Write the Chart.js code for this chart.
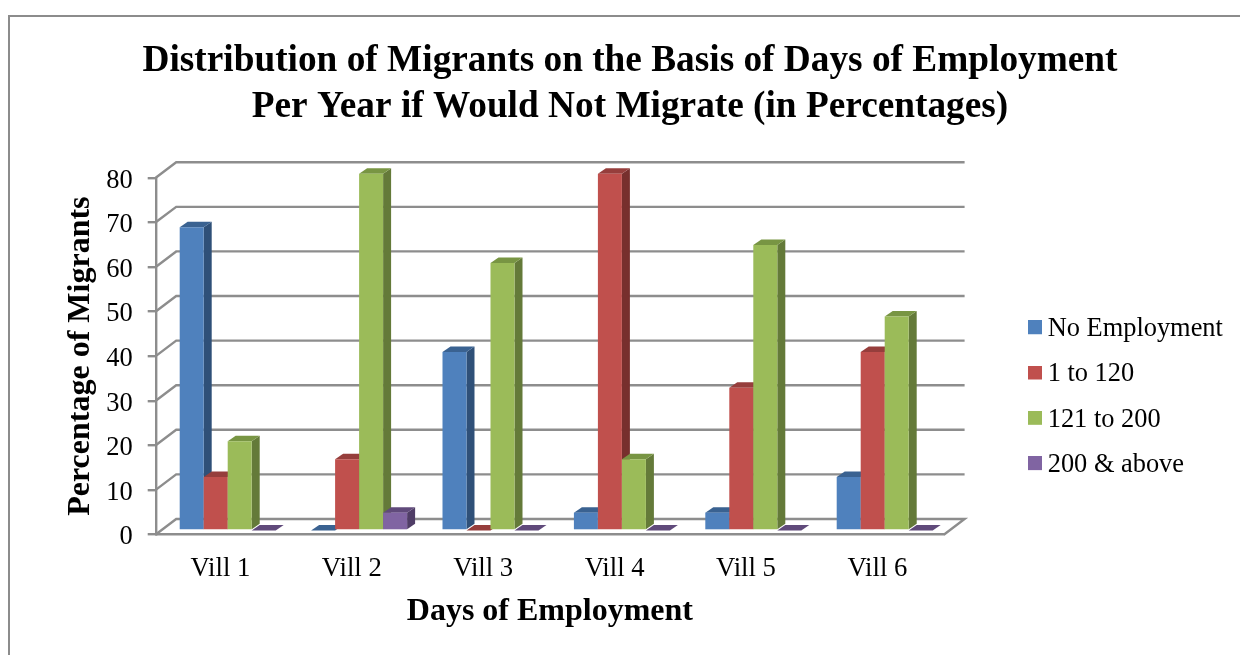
<!DOCTYPE html>
<html>
<head>
<meta charset="utf-8">
<title>Distribution of Migrants</title>
<script src="https://cdn.jsdelivr.net/npm/chart.js@4"></script>
<style>
  html, body { margin: 0; padding: 0; background: #fff; overflow: hidden; }
  canvas { display: block; }
</style>
</head>
<body>
<canvas id="chart" width="1240" height="655"></canvas>
<script>
const villages = ['Vill 1', 'Vill 2', 'Vill 3', 'Vill 4', 'Vill 5', 'Vill 6'];
const noEmployment = [68, 0, 40, 4, 4, 12];
const upTo120 = [12, 16, 0, 80, 32, 40];
const upTo200 = [20, 80, 60, 16, 64, 48];
const above200 = [0, 4, 0, 0, 0, 0];

const seriesNames = ['No Employment', '1 to 120', '121 to 200', '200 & above'];
const frontColors = ['#4f81bd', '#c0504d', '#9bbb59', '#8064a2'];
const topColors = ['#3a6291', '#963e3c', '#789543', '#604a7b'];
const sideColors = ['#2f5078', '#772f2d', '#647a39', '#4f3d66'];

const titleLines = [
  'Distribution of Migrants on the Basis of Days of Employment',
  'Per Year if Would Not Migrate (in Percentages)'
];

const serif = '"Liberation Serif", "Times New Roman", serif';
const axisGray = '#8d8d8d';

// Depth of the box behind the front plane, and of each column.
const WALL_DX = 20.5, WALL_DY = 15.5;
const BAR_SHIFT_X = 6.3, BAR_SHIFT_Y = -4;
const BAR_DX = 8, BAR_DY = 5.5;

function polygon(ctx, points, fill) {
  ctx.beginPath();
  points.forEach((p, i) => (i ? ctx.lineTo(p[0], p[1]) : ctx.moveTo(p[0], p[1])));
  ctx.closePath();
  ctx.fillStyle = fill;
  ctx.fill();
}

// Legend marker: a 14px square sitting slightly above and right of the image centre,
// so it lines up with the label text beside it.
function swatch(color) {
  const c = document.createElement('canvas');
  c.width = 16;
  c.height = 18;
  const g = c.getContext('2d');
  g.fillStyle = color;
  g.fillRect(2, 0, 14, 14);
  return c;
}

const frame = {
  id: 'frame',
  beforeDraw(chart) {
    const { ctx, width, height } = chart;
    ctx.save();
    ctx.strokeStyle = '#8c8c8c';
    ctx.lineWidth = 2;
    ctx.beginPath();
    ctx.moveTo(9, height);
    ctx.lineTo(9, 16);
    ctx.lineTo(width, 16);
    ctx.stroke();
    ctx.restore();
  }
};

// The legend and title live outside the plot's own box, so they are placed after layout.
const placement = {
  id: 'placement',
  afterLayout(chart) {
    const title = chart.titleBlock;
    title.left = 20;
    title.right = chart.width;
    const legend = chart.legend;
    const pad = legend.options.labels.padding;
    const w = legend.width, h = legend.height;
    legend.left = 1033.5 - pad;
    legend.right = legend.left + w;
    legend.top = 316 - pad;
    legend.bottom = legend.top + h;
    legend.adjustHitBoxes();
  }
};

const box3d = {
  id: 'box3d',
  beforeDatasetsDraw(chart) {
    const { ctx, scales: { y }, chartArea } = chart;
    const left = chartArea.left, right = chartArea.right;

    // Back wall lines and the slanted floor and wall edges.
    ctx.save();
    ctx.strokeStyle = axisGray;
    ctx.lineWidth = 2.4;
    y.ticks.forEach(t => {
      const py = y.getPixelForValue(t.value);
      ctx.beginPath();
      ctx.moveTo(left, py);
      ctx.lineTo(left + WALL_DX, py - WALL_DY);
      ctx.lineTo(right + WALL_DX, py - WALL_DY);
      if (t.value === 0) ctx.lineTo(right, py);
      ctx.stroke();
    });
    ctx.restore();

    // Columns are painted left to right so nearer faces cover farther ones.
    ctx.save();
    ctx.translate(BAR_SHIFT_X, BAR_SHIFT_Y);
    chart.data.datasets.forEach((ds, di) => {
      chart.getDatasetMeta(di).data.forEach(bar => {
        const p = bar.getProps(['x', 'y', 'base', 'width'], true);
        const x0 = p.x - p.width / 2, x1 = p.x + p.width / 2;
        polygon(ctx, [[x1, p.y], [x1 + BAR_DX, p.y - BAR_DY], [x1 + BAR_DX, p.base - BAR_DY], [x1, p.base]], sideColors[di]);
        polygon(ctx, [[x0, p.y], [x1, p.y], [x1 + BAR_DX, p.y - BAR_DY], [x0 + BAR_DX, p.y - BAR_DY]], topColors[di]);
        bar.draw(ctx);
      });
    });
    ctx.restore();
    return false;
  }
};

const seriesValues = [noEmployment, upTo120, upTo200, above200];

new Chart(document.getElementById('chart'), {
  type: 'bar',
  data: {
    labels: villages,
    datasets: seriesNames.map((name, i) => ({
      label: name,
      data: seriesValues[i],
      backgroundColor: frontColors[i],
      borderWidth: 0,
      barPercentage: 1,
      categoryPercentage: 0.7306
    }))
  },
  options: {
    responsive: false,
    animation: false,
    layout: { padding: { left: 0, top: 0, right: 295.9, bottom: 0 } },
    plugins: {
      title: {
        display: true,
        text: titleLines,
        color: '#000',
        font: { family: serif, size: 37.3, weight: 'bold', lineHeight: 1.235 },
        padding: { top: 38, bottom: 47.6 }
      },
      legend: {
        position: 'chartArea',
        align: 'start',
        labels: {
          color: '#000',
          font: { family: serif, size: 26.4 },
          boxWidth: 1,
          boxHeight: 1,
          padding: 18.9,
          usePointStyle: true,
          generateLabels: chart => chart.data.datasets.map((ds, i) => ({
            text: ds.label,
            pointStyle: swatch(frontColors[i]),
            lineWidth: 0,
            datasetIndex: i,
            hidden: false
          }))
        }
      },
      tooltip: { enabled: false }
    },
    scales: {
      x: {
        afterFit(scale) { scale.height = 120.5; },
        border: { color: axisGray, width: 2.4 },
        grid: { drawOnChartArea: false, drawTicks: false },
        ticks: { color: '#000', padding: 18.5, labelOffset: -1, autoSkip: false, maxRotation: 0, font: { family: serif, size: 26.7 } },
        title: {
          display: true, text: 'Days of Employment', color: '#000',
          font: { family: serif, size: 32, weight: 'bold', lineHeight: 1.2 },
          padding: { top: 0, bottom: 24 }
        }
      },
      y: {
        min: 0, max: 80,
        afterFit(scale) { scale.width = 155.7; },
        border: { color: axisGray, width: 2.4 },
        grid: { drawOnChartArea: false, drawTicks: true, tickLength: 8, color: axisGray, lineWidth: 2.4 },
        ticks: { stepSize: 10, color: '#000', padding: 15, labelOffset: 3, font: { family: serif, size: 26.5 } },
        title: {
          display: true, text: 'Percentage of Migrants', color: '#000',
          font: { family: serif, size: 32, weight: 'bold', lineHeight: 1.2 },
          padding: { top: 62, bottom: 0 }
        }
      }
    }
  },
  plugins: [frame, placement, box3d]
});
</script>
</body>
</html>
